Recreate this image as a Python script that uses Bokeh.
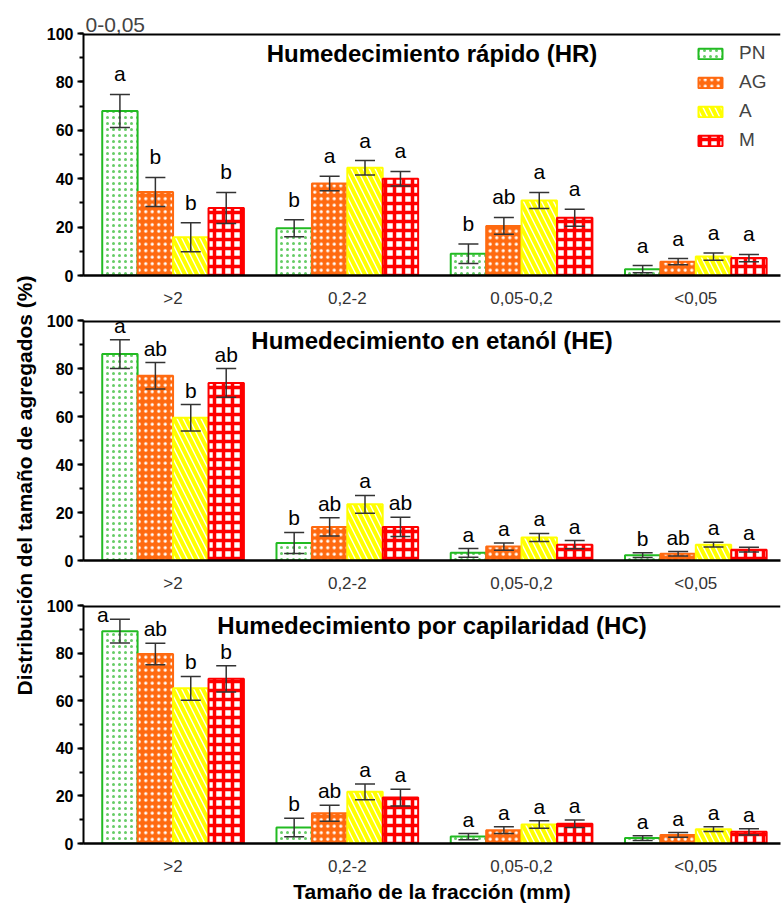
import numpy as np
from bokeh.plotting import figure
from bokeh.models import (ColumnDataSource, Whisker, TeeHead, LabelSet, Label, Range1d, Span,
                          FixedTicker, SingleIntervalTicker, Legend, LegendItem)
from bokeh.layouts import column, row
from bokeh.embed import file_html
from bokeh.resources import INLINE
from bokeh.core.properties import value

FONT = "Liberation Sans"

fractions = [">2", "0,2-2", "0,05-0,2", "<0,05"]
series = ["PN", "AG", "A", "M"]
panel_titles = ["Humedecimiento rápido (HR)",
                "Humedecimiento en etanól (HE)",
                "Humedecimiento por capilaridad (HC)"]

# --- HR ---
hr_pn = [68.0, 19.5, 9.0, 2.6]
hr_ag = [34.5, 38.0, 20.5, 5.7]
hr_a = [15.8, 44.5, 31.0, 7.8]
hr_m = [27.9, 40.0, 23.9, 7.2]
hr_pn_err = [6.8, 3.5, 4.0, 1.5]
hr_ag_err = [6.0, 3.0, 3.5, 1.3]
hr_a_err = [6.0, 3.0, 3.3, 1.5]
hr_m_err = [6.4, 3.0, 3.5, 1.5]
hr_pn_let = ["a", "b", "b", "a"]
hr_ag_let = ["b", "a", "ab", "a"]
hr_a_let = ["b", "a", "a", "a"]
hr_m_let = ["b", "a", "a", "a"]

# --- HE ---
he_pn = [86.0, 7.3, 3.2, 2.2]
he_ag = [77.0, 14.0, 5.8, 2.8]
he_a = [59.5, 23.4, 9.6, 6.6]
he_m = [74.0, 14.0, 6.6, 4.5]
he_pn_err = [6.0, 4.4, 1.8, 1.0]
he_ag_err = [5.5, 3.8, 1.5, 0.9]
he_a_err = [5.5, 3.7, 1.7, 1.0]
he_m_err = [6.0, 4.0, 1.7, 1.0]
he_pn_let = ["a", "b", "a", "b"]
he_ag_let = ["ab", "ab", "a", "ab"]
he_a_let = ["b", "a", "a", "a"]
he_m_let = ["ab", "ab", "a", "a"]

# --- HC ---
hc_pn = [89.2, 6.7, 2.9, 2.3]
hc_ag = [79.6, 12.7, 5.6, 3.6]
hc_a = [65.2, 21.7, 8.0, 6.0]
hc_m = [69.2, 19.3, 8.3, 4.9]
hc_pn_err = [5.0, 3.9, 1.3, 1.0]
hc_ag_err = [4.5, 3.4, 1.4, 1.0]
hc_a_err = [5.0, 3.3, 1.6, 1.0]
hc_m_err = [5.5, 3.5, 1.6, 1.3]
hc_pn_let = ["a", "b", "a", "a"]
hc_ag_let = ["ab", "ab", "a", "a"]
hc_a_let = ["b", "a", "a", "a"]
hc_m_let = ["b", "a", "a", "a"]

panels = [
    ([hr_pn, hr_ag, hr_a, hr_m], [hr_pn_err, hr_ag_err, hr_a_err, hr_m_err],
     [hr_pn_let, hr_ag_let, hr_a_let, hr_m_let]),
    ([he_pn, he_ag, he_a, he_m], [he_pn_err, he_ag_err, he_a_err, he_m_err],
     [he_pn_let, he_ag_let, he_a_let, he_m_let]),
    ([hc_pn, hc_ag, hc_a, hc_m], [hc_pn_err, hc_ag_err, hc_a_err, hc_m_err],
     [hc_pn_let, hc_ag_let, hc_a_let, hc_m_let]),
]

styles = {
    "PN": dict(fill_color="white", line_color="#22bb22", hatch_pattern="dot",
               hatch_color="#66cc66", hatch_scale=6, hatch_weight=1),
    "AG": dict(fill_color="#ff6a10", line_color="#ff6a10", hatch_pattern="dot",
               hatch_color="white", hatch_scale=6.5, hatch_weight=1),
    "A": dict(fill_color="white", line_color="#ffff00", hatch_pattern="left_diagonal_line",
              hatch_color="#ffff00", hatch_scale=12, hatch_weight=4),
    "M": dict(fill_color="white", line_color="#ff0000", hatch_pattern="cross",
              hatch_color="#ff0000", hatch_scale=9, hatch_weight=3.5),
}

offsets = [-0.305, -0.1015, 0.1015, 0.305]
bar_w = 0.203
groups = np.arange(len(fractions))

YLAB_W = 38
FIG_W = 744
heights = [310, 285, 310]
tops = [33, 10, 10]
bottoms = [30, 28, 50]
letter_gap = [13, 7, 7]

figs = []
for k in range(3):
    means, errs, lets = panels[k]
    frame_h = heights[k] - tops[k] - bottoms[k]
    ppu = frame_h / 100.0
    kw = dict(width=FIG_W, height=heights[k], x_range=Range1d(-0.514, 3.486),
              y_range=Range1d(0, 100), output_backend="svg", toolbar_location=None,
              min_border_left=45, min_border_right=2, min_border_top=tops[k],
              min_border_bottom=bottoms[k], outline_line_color=None,
              background_fill_color="white", border_fill_color="white")
    if k == 0:
        p = figure(title="0-0,05", **kw)
        p.title.align = "left"
        p.title.text_font = FONT
        p.title.text_font_style = "normal"
        p.title.text_font_size = "21px"
        p.title.standoff = 4
        p.title.offset = 2
    else:
        p = figure(title=None, **kw)
    p.xgrid.visible = False
    p.ygrid.visible = False

    renderers = []
    for i, s in enumerate(series):
        upper = np.array(means[i]) + np.array(errs[i])
        lower = np.array(means[i]) - np.array(errs[i])
        # letter placement: above the error bar, squeezed / moved aside near the top
        room = (100 - upper) * ppu
        yo = np.minimum(letter_gap[k], room - 13)
        xo = np.where(yo < 3, -17, 0)
        yo = np.where(yo < 3, -3, yo)
        src = ColumnDataSource(dict(
            x=groups + offsets[i], top=means[i], upper=upper, lower=lower,
            letter=lets[i], xo=xo, yo=yo,
        ))
        r = p.vbar(x="x", top="top", bottom=0, width=bar_w, source=src,
                   line_width=2, **styles[s])
        renderers.append(r)
        wh = Whisker(source=src, base="x", upper="upper", lower="lower", dimension="height",
                     line_color="#333333", line_width=1.5, level="overlay",
                     upper_head=TeeHead(size=20, line_color="#333333", line_width=1.5),
                     lower_head=TeeHead(size=20, line_color="#333333", line_width=1.5))
        p.add_layout(wh)
        ls = LabelSet(x="x", y="upper", text="letter", source=src, text_align="center",
                      text_baseline="alphabetic", x_offset="xo", y_offset="yo",
                      text_font=value(FONT), text_font_size="21px", text_color="black",
                      level="overlay")
        p.add_layout(ls)

    # top border line of the panel (y = 100)
    p.add_layout(Span(location=100, dimension="width", line_color="black",
                      line_width=4, level="overlay"))

    # panel title
    p.add_layout(Label(x=(p.x_range.start + p.x_range.end) / 2, y=100, y_offset=-6,
                       text=panel_titles[k], text_align="center", text_baseline="top",
                       text_font=FONT, text_font_style="bold", text_font_size="24px",
                       text_color="black"))

    # axes
    yax = p.yaxis[0]
    yax.ticker = SingleIntervalTicker(interval=20, num_minor_ticks=2)
    yax.axis_line_width = 2
    yax.major_tick_line_width = 2
    yax.minor_tick_line_width = 2
    yax.major_tick_out = 6
    yax.major_tick_in = 0
    yax.minor_tick_out = 4
    yax.minor_tick_in = 0
    yax.major_label_standoff = 4
    yax.major_label_text_font = FONT
    yax.major_label_text_font_style = "bold"
    yax.major_label_text_font_size = "16px"
    yax.major_label_text_color = "black"

    xax = p.xaxis[0]
    xax.ticker = FixedTicker(ticks=list(groups))
    xax.major_label_overrides = {int(g): f for g, f in zip(groups, fractions)}
    xax.axis_line_width = 2.5
    xax.major_tick_line_color = None
    xax.minor_tick_line_color = None
    xax.major_label_standoff = 7
    xax.major_label_text_font = FONT
    xax.major_label_text_font_size = "17px"
    xax.major_label_text_color = "#333333"

    if k == 2:
        xax.axis_label = "Tamaño de la fracción (mm)"
        xax.axis_label_text_font = FONT
        xax.axis_label_text_font_style = "bold"
        xax.axis_label_text_font_size = "21px"
        xax.axis_label_standoff = 1
        xax.axis_label_text_color = "black"

    if k == 0:
        legend_h = 2 * 7 + 4 * 19 + 3 * 7
        legend = Legend(items=[LegendItem(label=s, renderers=[r]) for s, r in zip(series, renderers)],
                        location=(612, frame_h - 12 - legend_h),
                        glyph_width=30, glyph_height=13,
                        label_height=19, spacing=7, label_standoff=14, margin=0, padding=7,
                        border_line_color=None, background_fill_alpha=0,
                        label_text_font=FONT, label_text_font_size="19px")
        p.add_layout(legend)
    figs.append(p)

total_h = sum(heights)
ylab = figure(width=YLAB_W, height=total_h, x_range=Range1d(0, YLAB_W), y_range=Range1d(0, total_h),
              output_backend="svg", toolbar_location=None, x_axis_type=None, y_axis_type=None,
              min_border=0, outline_line_color=None, title=None)
ylab.xgrid.visible = False
ylab.ygrid.visible = False
ylab.text(x=[24], y=[total_h - 485], text=["Distribución del tamaño de agregados (%)"],
          angle=np.pi / 2, text_align="center", text_baseline="middle",
          text_font=value(FONT), text_font_style="bold", text_font_size="21px",
          text_color="black")

layout = row(ylab, column(*figs))
open("out.html", "w").write(file_html(layout, INLINE))
